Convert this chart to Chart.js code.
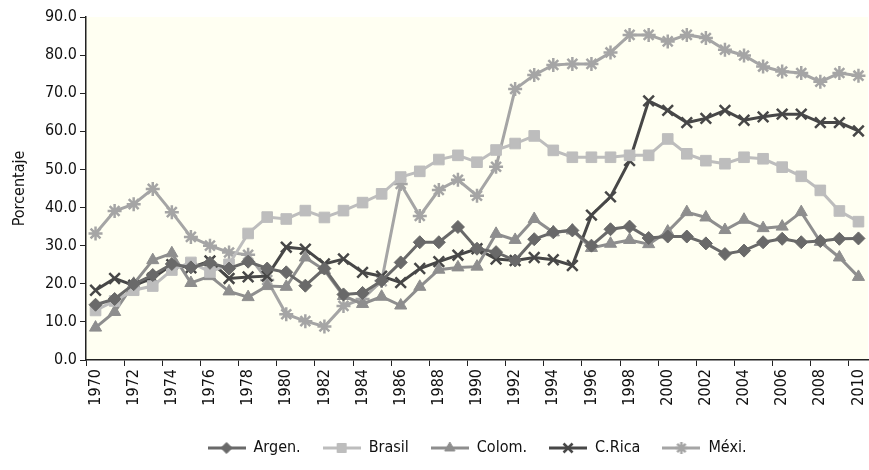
<!DOCTYPE html>
<html>
<head>
<meta charset="utf-8">
<script src="https://cdn.jsdelivr.net/npm/chart.js@4.4.1/dist/chart.umd.min.js"></script>
<style>
html,body{margin:0;padding:0;background:#fff;}
#wrap{width:869px;height:470px;}
</style>
</head>
<body>
<div id="wrap"><canvas id="chart" width="869" height="470"></canvas></div>
<script>
// años 1970-2010
const years = [];
for (let y = 1970; y <= 2010; y++) years.push(String(y));

const seriesNames = ["Argen.", "Brasil", "Colom.", "C.Rica", "Méxi."];

const argen = [14.5,16.0,19.9,22.3,25.2,24.3,25.5,24.0,25.8,24.0,23.0,19.5,24.0,17.2,17.6,20.8,25.6,30.9,30.9,34.9,
29.2,28.3,26.1,31.7,33.5,34.0,30.0,34.3,35.0,32.0,32.4,32.4,30.6,27.8,28.7,30.9,31.8,30.9,31.2,31.8,31.9];

const brasil = [13.0,15.5,18.3,19.4,23.6,25.6,23.1,25.1,33.2,37.5,37.0,39.2,37.4,39.2,41.3,43.6,48.0,49.5,52.6,53.7,
51.9,55.1,56.8,58.8,55.0,53.2,53.2,53.2,53.7,53.7,58.0,54.1,52.3,51.5,53.2,52.8,50.6,48.2,44.5,39.1,36.3];

const colom = [8.5,12.6,20.0,26.2,28.0,20.2,22.0,18.0,16.5,19.4,19.2,26.9,23.6,16.8,14.7,16.6,14.3,19.2,23.7,24.3,
24.5,33.1,31.5,37.0,33.5,34.0,29.4,30.5,31.5,30.4,33.7,38.8,37.4,34.1,36.8,34.6,35.0,38.8,31.0,26.9,21.8];

const crica = [18.3,21.4,19.6,21.5,25.0,24.2,26.0,21.4,21.8,22.0,29.6,29.1,25.2,26.5,23.0,22.0,20.3,24.0,25.8,27.5,
29.2,26.5,26.1,26.9,26.3,24.8,38.0,42.8,52.3,68.0,65.5,62.3,63.4,65.5,62.9,63.8,64.5,64.5,62.3,62.3,60.1];

const mexi = [33.2,39.1,40.9,44.9,38.8,32.3,30.0,28.2,27.6,21.0,12.0,10.2,8.8,14.2,16.0,20.7,46.2,37.8,44.6,47.3,
43.1,50.7,71.1,74.8,77.4,77.7,77.7,80.7,85.3,85.3,83.6,85.3,84.5,81.4,79.9,77.0,75.7,75.3,73.0,75.3,74.6];

const yTicks = [0,10,20,30,40,50,60,70,80,90];

const FONT = "'Liberation Sans Narrow','DejaVu Sans Condensed',sans-serif";

const styles = [
  {color:"#696969", point:"rectRot", radius:6.5, pbw:1},
  {color:"#BDBDBD", point:"rect", radius:7.5, pbw:1},
  {color:"#8E8E8E", point:"triangle", radius:7, pbw:1},
  {color:"#474747", point:"crossRot", radius:7.5, pbw:2.5},
  {color:"#A5A5A5", point:"star", radius:7, pbw:2.5}
];

const values = [argen, brasil, colom, crica, mexi];

const datasets = seriesNames.map(function(name, i){
  const s = styles[i];
  return {
    label:name,
    data:values[i],
    borderColor:s.color,
    backgroundColor:s.color,
    borderWidth:3,
    tension:0,
    pointStyle:s.point,
    pointRadius:s.radius,
    pointHoverRadius:s.radius,
    pointBorderWidth:s.pbw,
    pointBackgroundColor:s.color,
    pointBorderColor:s.color
  };
});

// icono de leyenda: linea + marcador
function legendIcon(s){
  const c = document.createElement("canvas");
  c.width = 38; c.height = 16;
  const ctx = c.getContext("2d");
  ctx.strokeStyle = s.color;
  ctx.fillStyle = s.color;
  ctx.lineWidth = 3;
  ctx.beginPath();
  ctx.moveTo(0, 8);
  ctx.lineTo(38, 8);
  ctx.stroke();
  ctx.lineWidth = s.pbw;
  Chart.helpers.drawPoint(ctx, {pointStyle:s.point, radius:s.radius*0.85, rotation:0, borderWidth:s.pbw}, 19, 8);
  return c;
}

const plotBg = {
  id:"plotBg",
  beforeDraw(chart){
    const a = chart.chartArea;
    const ctx = chart.ctx;
    ctx.save();
    ctx.fillStyle = "#FFFFF2";
    ctx.fillRect(a.left, a.top, a.right - a.left, a.bottom - a.top);
    ctx.restore();
  }
};

new Chart(document.getElementById("chart"), {
  type:"line",
  data:{labels:years, datasets:datasets},
  plugins:[plotBg],
  options:{
    responsive:false,
    animation:false,
    layout:{autoPadding:false, padding:{top:17, right:1, bottom:4, left:0}},
    plugins:{
      tooltip:{enabled:false},
      legend:{
        position:"bottom",
        fullSize:false,
        labels:{
          usePointStyle:true,
          pointStyleWidth:38,
          padding:22,
          color:"#111",
          font:{family:FONT, size:16},
          generateLabels(chart){
            return chart.data.datasets.map(function(ds, i){
              return {
                text:ds.label,
                pointStyle:legendIcon(styles[i]),
                fillStyle:styles[i].color,
                strokeStyle:styles[i].color,
                lineWidth:0,
                fontColor:"#111",
                datasetIndex:i,
                hidden:false
              };
            });
          }
        }
      }
    },
    scales:{
      x:{
        offset:true,
        afterFit:function(scale){
          scale.height = 58;
          scale.paddingLeft = 0;
          scale.paddingRight = 0;
        },
        grid:{
          offset:true,
          drawOnChartArea:false,
          tickLength:6,
          tickColor:function(ctx){ return ctx.index % 2 === 0 ? "#222" : "rgba(0,0,0,0)"; }
        },
        border:{color:"#222", width:1.5},
        ticks:{
          autoSkip:false,
          minRotation:90,
          maxRotation:90,
          padding:3,
          color:"#111",
          font:{family:FONT, size:16},
          callback:function(v, i){ return i % 2 === 0 ? years[i] : ""; }
        }
      },
      y:{
        min:0,
        max:90,
        afterBuildTicks:function(scale){ scale.ticks = yTicks.map(function(v){ return {value:v}; }); },
        afterFit:function(scale){ scale.width = 86; },
        grid:{drawOnChartArea:false, tickLength:6, tickColor:"#222"},
        border:{color:"#222", width:1.5},
        ticks:{
          padding:3,
          color:"#111",
          font:{family:FONT, size:16},
          callback:function(v){ return Number(v).toFixed(1); }
        },
        title:{
          display:true,
          text:"Porcentaje",
          color:"#111",
          font:{family:FONT, size:16},
          padding:{top:10, bottom:4}
        }
      }
    }
  }
});
</script>
</body>
</html>
